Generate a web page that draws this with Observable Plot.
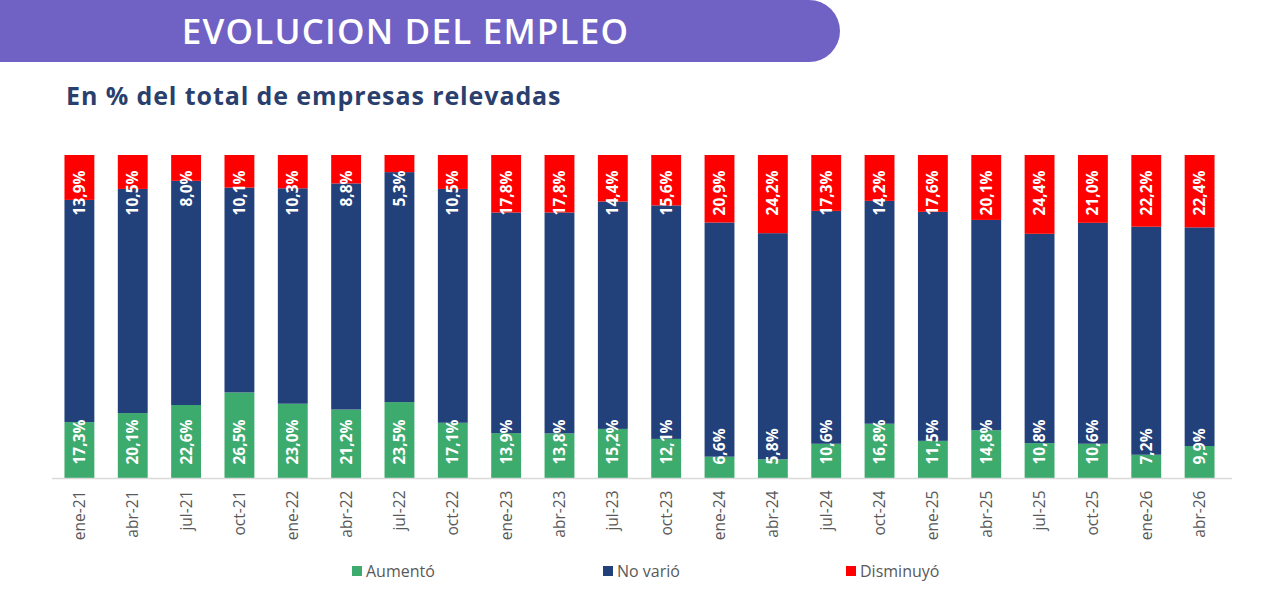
<!DOCTYPE html>
<html>
<head>
<meta charset="utf-8">
<script src="https://cdn.jsdelivr.net/npm/d3@7"></script>
<script src="https://cdn.jsdelivr.net/npm/@observablehq/plot@0.6"></script>
<style>
  html, body { margin: 0; padding: 0; background: #fff; width: 1280px; height: 590px; overflow: hidden; font-family: "Open Sans", sans-serif; }
  #banner { position: absolute; left: 0; top: 0; width: 840px; height: 62px; background: #6F62C4; border-radius: 0 31px 31px 0; }
  #banner span { position: absolute; left: 0; width: 811px; text-align: center; top: 7px; color: #fff; font-size: 35px; font-weight: 600; letter-spacing: 1.2px; }
  #subtitle { position: absolute; left: 66px; top: 78px; color: #2B3F6E; font-size: 25px; font-weight: 700; letter-spacing: 0.9px; }
  #chart { position: absolute; left: 0; top: 140px; }
  #legend { position: absolute; top: 560px; left: 0; width: 1280px; height: 24px; font-size: 16px; color: #595959; }
  .item { position: absolute; top: 0; display: flex; align-items: center; }
  .sw { width: 10px; height: 10px; margin-right: 4px; }
</style>
</head>
<body>
<div id="banner"><span>EVOLUCION DEL EMPLEO</span></div>
<div id="subtitle">En % del total de empresas relevadas</div>
<div id="chart"></div>
<div id="legend"></div>
<script>
const periods = ["ene-21","abr-21","jul-21","oct-21","ene-22","abr-22","jul-22","oct-22","ene-23","abr-23","jul-23","oct-23","ene-24","abr-24","jul-24","oct-24","ene-25","abr-25","jul-25","oct-25","ene-26","abr-26"];
const aumento   = [17.3,20.1,22.6,26.5,23.0,21.2,23.5,17.1,13.9,13.8,15.2,12.1,6.6,5.8,10.6,16.8,11.5,14.8,10.8,10.6,7.2,9.9];
const novario   = [68.8,69.4,69.4,63.4,66.7,70.0,71.2,72.4,68.3,68.4,70.4,72.3,72.5,70.0,72.1,69.0,70.9,65.1,64.8,68.4,70.6,67.7];
const disminuyo = [13.9,10.5,8.0,10.1,10.3,8.8,5.3,10.5,17.8,17.8,14.4,15.6,20.9,24.2,17.3,14.2,17.6,20.1,24.4,21.0,22.2,22.4];
const seriesNames = ["Aumentó","No varió","Disminuyó"];
const seriesColors = ["#3DAA6E","#22407A","#FF0000"];

const rows = [];
periods.forEach((p, i) => {
  rows.push({period: p, series: seriesNames[0], value: aumento[i]});
  rows.push({period: p, series: seriesNames[1], value: novario[i]});
  rows.push({period: p, series: seriesNames[2], value: disminuyo[i]});
});
const fmt = v => v.toFixed(1).replace(".", ",") + "%";
const upRows = periods.map((p, i) => ({period: p, value: aumento[i]}));
const downRows = periods.map((p, i) => ({period: p, value: disminuyo[i]}));

const chart = Plot.plot({
  width: 1280,
  height: 410,
  marginTop: 15,
  marginBottom: 72,
  marginLeft: 41,
  marginRight: 42,
  style: {fontFamily: "Open Sans, sans-serif", background: "transparent"},
  x: {domain: periods, padding: 0.44, round: false, label: null},
  y: {domain: [0, 100], axis: null},
  color: {domain: seriesNames, range: seriesColors},
  marks: [
    Plot.barY(rows, {x: "period", y: "value", fill: "series"}),
    Plot.ruleY([0], {stroke: "#D9D9D9", strokeWidth: 1.5, insetLeft: 11, insetRight: 6}),
    Plot.axisX({tickRotate: -90, tickSize: 0, tickPadding: 12, fontSize: 15.5, color: "#595959", label: null}),
    Plot.text(upRows, {x: "period", y: () => 0, text: d => fmt(d.value), rotate: -90, textAnchor: "start", lineAnchor: "middle", dy: -14, fill: "white", fontSize: 15.5, fontWeight: "bold"}),
    Plot.text(downRows, {x: "period", y: () => 100, text: d => fmt(d.value), rotate: -90, textAnchor: "end", lineAnchor: "middle", dy: 15, fill: "white", fontSize: 15.5, fontWeight: "bold"})
  ]
});
document.getElementById("chart").appendChild(chart);

const legendX = [352, 603, 846];
const legend = document.getElementById("legend");
seriesNames.forEach((s, i) => {
  const it = document.createElement("div");
  it.className = "item";
  it.style.left = legendX[i] + "px";
  it.innerHTML = `<div class="sw" style="background:${seriesColors[i]}"></div><span>${s}</span>`;
  legend.appendChild(it);
});
</script>
</body>
</html>
